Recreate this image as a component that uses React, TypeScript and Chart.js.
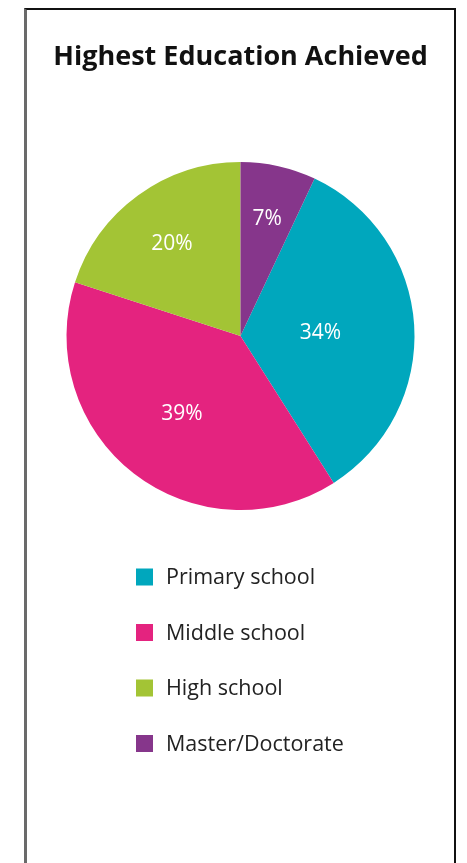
import React, { useEffect, useRef } from "react";
import { Chart, registerables } from "chart.js";

Chart.register(...registerables);

const TITLE = "Highest Education Achieved";
const CATEGORIES = ["Primary school", "Middle school", "High school", "Master/Doctorate"];
const SHARES = [34, 39, 20, 7];
const COLORS = ["#00A7BD", "#E4237F", "#A3C435", "#86368B"];
// style: radial position of each percentage label, as a fraction of the radius
const LABEL_RADIUS = [0.46, 0.55, 0.67, 0.7];

const FONT = "'Open Sans', Lato, sans-serif";

const sliceLabels = {
  id: "sliceLabels",
  afterDatasetsDraw(chart: any) {
    const ctx = chart.ctx;
    const meta = chart.getDatasetMeta(0);
    ctx.save();
    ctx.fillStyle = "#ffffff";
    ctx.font = `21px ${FONT}`;
    ctx.textAlign = "center";
    ctx.textBaseline = "middle";
    meta.data.forEach((arc: any, i: number) => {
      const p = arc.getProps(["x", "y", "startAngle", "endAngle", "outerRadius"], true);
      const mid = (p.startAngle + p.endAngle) / 2;
      const r = p.outerRadius * LABEL_RADIUS[i];
      ctx.fillText(`${chart.data.datasets[0].data[i]}%`, p.x + Math.cos(mid) * r, p.y + Math.sin(mid) * r + 2);
    });
    ctx.restore();
  },
};

const listLegend = {
  id: "listLegend",
  afterDraw(chart: any) {
    const ctx = chart.ctx;
    const colors = chart.data.datasets[0].backgroundColor;
    ctx.save();
    ctx.font = `21.5px ${FONT}`;
    ctx.textBaseline = "middle";
    ctx.textAlign = "left";
    chart.data.labels.forEach((label: string, i: number) => {
      const cy = 567 + i * 55.5;
      ctx.fillStyle = colors[i];
      ctx.fillRect(109, cy - 8.5, 17, 17);
      ctx.fillStyle = "#222222";
      ctx.fillText(label, 139, cy + 1);
    });
    ctx.restore();
  },
};

export default function App() {
  const ref = useRef<HTMLCanvasElement>(null);

  useEffect(() => {
    if (!ref.current) return;
    const total = SHARES.reduce((a, b) => a + b, 0);
    const chart = new Chart(ref.current, {
      type: "pie",
      data: {
        labels: CATEGORIES,
        datasets: [
          {
            data: SHARES,
            backgroundColor: COLORS,
            borderWidth: 0,
          },
        ],
      },
      options: {
        responsive: false,
        animation: false,
        devicePixelRatio: 1,
        rotation: (SHARES[SHARES.length - 1] / total) * 360,
        layout: { padding: { top: 0, left: 0, right: 0, bottom: 354 } },
        plugins: {
          legend: { display: false },
          tooltip: { enabled: false },
          title: {
            display: true,
            text: TITLE,
            color: "#111111",
            font: { family: FONT, size: 27, weight: "bold", lineHeight: 1.2 },
            padding: { top: 31.5, bottom: 88.1 },
          },
        },
      },
      plugins: [sliceLabels, listLegend],
    });
    return () => chart.destroy();
  }, []);

  return (
    <div
      style={{
        marginLeft: 16,
        width: 432,
        height: 880,
        boxSizing: "border-box",
        borderTop: "2px solid #111",
        borderRight: "2px solid #111",
        borderLeft: "3px solid #6a6a6a",
        background: "#fff",
      }}
    >
      <canvas ref={ref} width={427} height={854} style={{ display: "block" }} />
    </div>
  );
}
